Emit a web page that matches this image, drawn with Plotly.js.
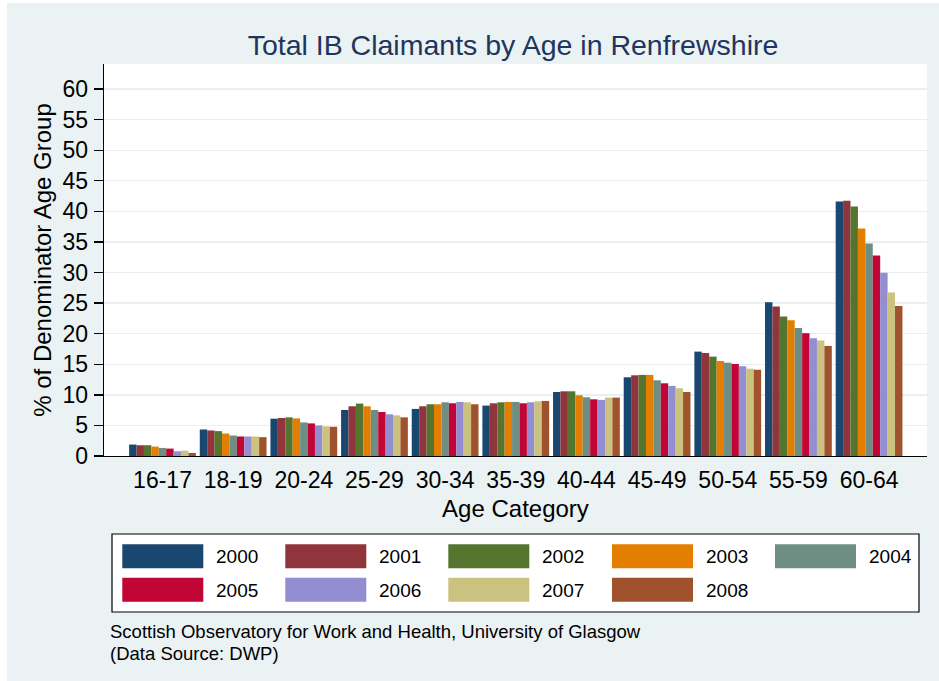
<!DOCTYPE html>
<html>
<head>
<meta charset="utf-8">
<script src="https://cdn.plot.ly/plotly-3.0.1.min.js"></script>
<style>
  html, body { margin: 0; padding: 0; background: #ffffff; width: 939px; height: 681px; overflow: hidden; }
  #chart { position: absolute; left: 7px; top: 3px; width: 932px; height: 678px; }
</style>
</head>
<body>
<div id="chart"></div>
<script>
// ---- data ----
const categories = ['16-17','18-19','20-24','25-29','30-34','35-39','40-44','45-49','50-54','55-59','60-64'];
const years = ['2000','2001','2002','2003','2004','2005','2006','2007','2008'];
const v2000 = [1.87, 4.34, 6.10, 7.53, 7.70, 8.24, 10.47, 12.87, 17.07, 25.16, 41.63];
const v2001 = [1.76, 4.18, 6.21, 8.13, 8.13, 8.62, 10.58, 13.20, 16.85, 24.45, 41.74];
const v2002 = [1.76, 4.07, 6.32, 8.57, 8.46, 8.78, 10.58, 13.26, 16.25, 22.81, 40.81];
const v2003 = [1.54, 3.68, 6.15, 8.13, 8.46, 8.84, 9.93, 13.26, 15.54, 22.21, 37.20];
const v2004 = [1.32, 3.35, 5.49, 7.53, 8.78, 8.84, 9.60, 12.38, 15.26, 20.95, 34.74];
const v2005 = [1.21, 3.19, 5.33, 7.20, 8.62, 8.62, 9.27, 11.89, 15.04, 20.08, 32.77];
const v2006 = [0.77, 3.19, 5.00, 6.81, 8.84, 8.78, 9.17, 11.46, 14.66, 19.26, 29.98];
const v2007 = [0.88, 3.19, 4.84, 6.65, 8.78, 8.95, 9.55, 11.07, 14.28, 18.87, 26.75];
const v2008 = [0.49, 3.08, 4.78, 6.32, 8.46, 9.00, 9.55, 10.47, 14.11, 18.00, 24.51];
const yTicks = [0, 5, 10, 15, 20, 25, 30, 35, 40, 45, 50, 55, 60];

const series = [v2000, v2001, v2002, v2003, v2004, v2005, v2006, v2007, v2008];
const colors = ['#1a476f','#90353b','#55752f','#e37e00','#6e8e84','#c10534','#938dd2','#cac27e','#a0522d'];

const FONT = 'Liberation Sans, Arial, Helvetica, sans-serif';

const traces = years.map((yr, i) => ({
  type: 'bar',
  name: yr,
  x: categories,
  y: series[i],
  marker: { color: colors[i], line: { width: 0 } },
  hoverinfo: 'x+y+name'
}));

// plot area in page pixels (used only to place the legend box / caption)
const PL = 104, PR = 927, PT = 64, PB = 456;
const px2x = p => (p - PL) / (PR - PL);
const px2y = p => (PB - p) / (PB - PT);

const shapes = [];
const annotations = [];

// legend frame
shapes.push({
  type: 'rect', xref: 'paper', yref: 'paper',
  x0: px2x(112), x1: px2x(919), y0: px2y(612), y1: px2y(534),
  fillcolor: '#ffffff', line: { color: '#000000', width: 1.2 }
});
const colX = [122.3, 285.3, 448.3, 612, 775];
const rowY = [544.3, 577.7];
years.forEach((yr, i) => {
  const c = i % 5, r = Math.floor(i / 5);
  const x0 = colX[c], y0 = rowY[r];
  shapes.push({
    type: 'rect', xref: 'paper', yref: 'paper',
    x0: px2x(x0), x1: px2x(x0 + 81), y0: px2y(y0 + 24), y1: px2y(y0),
    fillcolor: colors[i], line: { width: 0 }
  });
  annotations.push({
    xref: 'paper', yref: 'paper', x: px2x(x0 + 92), y: px2y(y0 + 12.5),
    xanchor: 'left', yanchor: 'middle', showarrow: false,
    text: yr, font: { family: FONT, size: 19, color: '#000000' }
  });
});

// caption
annotations.push({
  xref: 'paper', yref: 'paper', x: px2x(108), y: px2y(631.5),
  xanchor: 'left', yanchor: 'middle', showarrow: false,
  text: 'Scottish Observatory for Work and Health, University of Glasgow',
  font: { family: FONT, size: 18.5, color: '#000000' }
});
annotations.push({
  xref: 'paper', yref: 'paper', x: px2x(108), y: px2y(653),
  xanchor: 'left', yanchor: 'middle', showarrow: false,
  text: '(Data Source: DWP)',
  font: { family: FONT, size: 18.5, color: '#000000' }
});

const layout = {
  width: 932, height: 678,
  margin: { l: 97, r: 12, t: 61, b: 225, pad: 0 },
  paper_bgcolor: '#eaf2f3',
  plot_bgcolor: '#ffffff',
  showlegend: false,
  barmode: 'group',
  bargap: 0.055,
  bargroupgap: 0,
  font: { family: FONT, color: '#000000' },
  title: {
    text: 'Total IB Claimants by Age in Renfrewshire',
    font: { family: FONT, size: 28.5, color: '#1e3560' },
    x: 0.5429, xanchor: 'center', xref: 'container',
    y: 1 - 42 / 678, yanchor: 'middle', yref: 'container'
  },
  xaxis: {
    type: 'category',
    range: [-0.828, 10.82],
    showgrid: false,
    zeroline: false,
    showline: true, linecolor: '#000000', linewidth: 1.3,
    ticks: '',
    tickfont: { family: FONT, size: 23, color: '#000000' },
    ticklabelstandoff: 3,
    title: { text: 'Age Category', font: { family: FONT, size: 24, color: '#000000' }, standoff: 8 },
    fixedrange: true
  },
  yaxis: {
    range: [0, 64.1],
    tickvals: yTicks,
    ticktext: yTicks.map(String),
    showgrid: true, gridcolor: '#e9f0f2', gridwidth: 1.3,
    zeroline: false,
    showline: true, linecolor: '#000000', linewidth: 1.3,
    ticks: 'outside', ticklen: 9, tickwidth: 1.3, tickcolor: '#000000',
    tickfont: { family: FONT, size: 23, color: '#000000' },
    ticklabelstandoff: 1,
    title: { text: '% of Denominator Age Group', font: { family: FONT, size: 24, color: '#000000' }, standoff: 4 },
    fixedrange: true
  },
  shapes: shapes,
  annotations: annotations
};

Plotly.newPlot('chart', traces, layout, { displayModeBar: false, staticPlot: true });
</script>
</body>
</html>
